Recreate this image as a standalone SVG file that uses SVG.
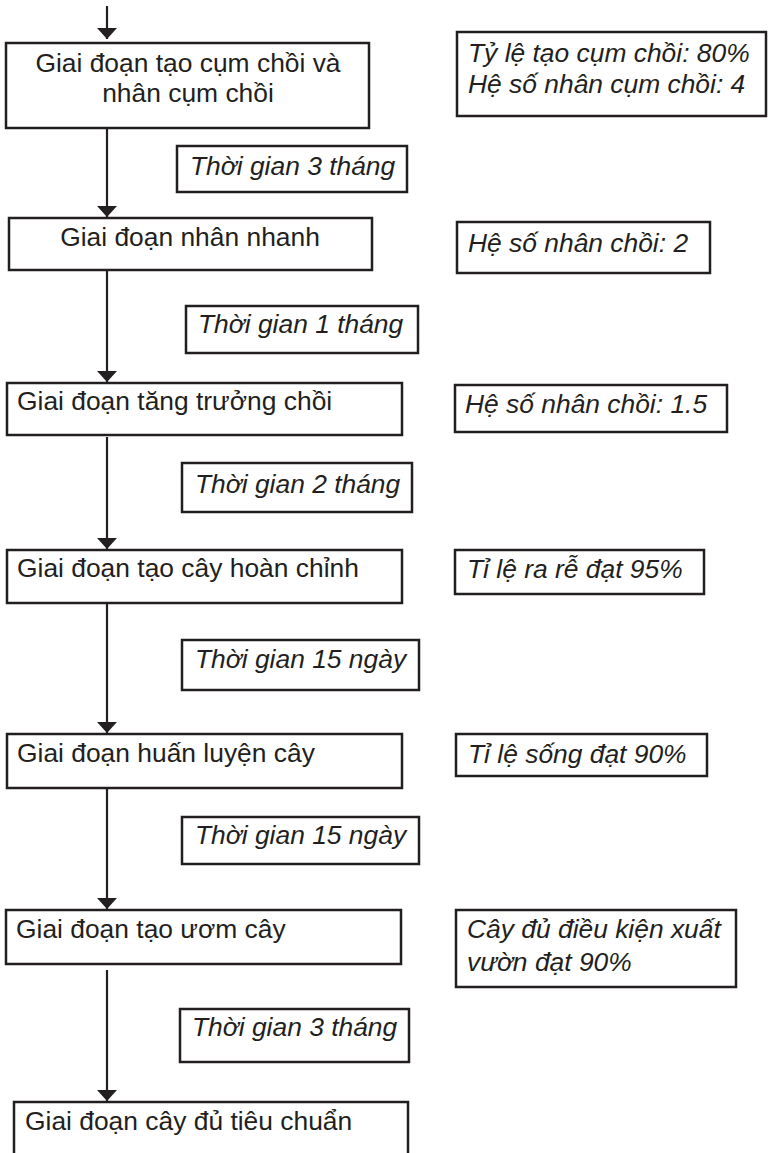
<svg xmlns="http://www.w3.org/2000/svg" width="768" height="1153" viewBox="0 0 768 1153">
<style>
  .box { fill: #ffffff; stroke: #231f20; stroke-width: 2.5; }
  .t { font-family: "Liberation Sans", Arial, sans-serif; font-size: 26.4px; fill: #231f20; }
  .i { font-style: italic; }
  .c { text-anchor: middle; }
  .conn { stroke: #231f20; stroke-width: 2.2; fill: none; marker-end: url(#arr); }
</style>
<defs>
  <marker id="arr" markerUnits="userSpaceOnUse" markerWidth="20" markerHeight="12" viewBox="0 0 20 12" refX="10" refY="11" orient="0">
    <path d="M0,0 L20,0 L10,11 Z" fill="#231f20"/>
  </marker>
</defs>
<rect width="768" height="1153" fill="#ffffff"/>

<g id="connectors">
  <line class="conn" x1="107" y1="6" x2="107" y2="39"/>
  <line class="conn" x1="107" y1="129" x2="107" y2="217"/>
  <line class="conn" x1="107" y1="271" x2="107" y2="382"/>
  <line class="conn" x1="107" y1="437" x2="107" y2="549"/>
  <line class="conn" x1="107" y1="604" x2="107" y2="733"/>
  <line class="conn" x1="107" y1="789" x2="107" y2="909"/>
  <line class="conn" x1="107" y1="970" x2="107" y2="1101"/>
</g>

<g id="stage1">
  <rect class="box" x="6" y="43" width="363" height="85"/>
  <text class="t c" x="188" y="72">Giai đoạn tạo cụm chồi và</text>
  <text class="t c" x="188" y="102">nhân cụm chồi</text>
</g>
<g id="stage2">
  <rect class="box" x="9" y="218" width="363" height="52"/>
  <text class="t c" x="190" y="246">Giai đoạn nhân nhanh</text>
</g>
<g id="stage3">
  <rect class="box" x="7" y="383" width="395" height="52"/>
  <text class="t" x="17" y="410">Giai đoạn tăng trưởng chồi</text>
</g>
<g id="stage4">
  <rect class="box" x="7" y="550" width="395" height="53"/>
  <text class="t" x="17" y="577">Giai đoạn tạo cây hoàn chỉnh</text>
</g>
<g id="stage5">
  <rect class="box" x="7" y="734" width="395" height="54"/>
  <text class="t" x="17" y="762">Giai đoạn huấn luyện cây</text>
</g>
<g id="stage6">
  <rect class="box" x="6" y="910" width="395" height="54"/>
  <text class="t" x="16" y="938">Giai đoạn tạo ươm cây</text>
</g>
<g id="stage7">
  <rect class="box" x="14" y="1102" width="394" height="60"/>
  <text class="t" x="25" y="1130">Giai đoạn cây đủ tiêu chuẩn</text>
</g>

<g id="time1">
  <rect class="box" x="177" y="146" width="230" height="46"/>
  <text class="t i" x="190" y="175">Thời gian 3 tháng</text>
</g>
<g id="time2">
  <rect class="box" x="186" y="306" width="232" height="47"/>
  <text class="t i" x="198" y="333">Thời gian 1 tháng</text>
</g>
<g id="time3">
  <rect class="box" x="182" y="463" width="230" height="49"/>
  <text class="t i" x="195" y="493">Thời gian 2 tháng</text>
</g>
<g id="time4">
  <rect class="box" x="182" y="640" width="237" height="50"/>
  <text class="t i" x="195" y="668">Thời gian 15 ngày</text>
</g>
<g id="time5">
  <rect class="box" x="182" y="817" width="237" height="47"/>
  <text class="t i" x="195" y="844">Thời gian 15 ngày</text>
</g>
<g id="time6">
  <rect class="box" x="180" y="1009" width="229" height="53"/>
  <text class="t i" x="192" y="1036">Thời gian 3 tháng</text>
</g>

<g id="note1">
  <rect class="box" x="457" y="32" width="309" height="84"/>
  <text class="t i" x="468" y="62">Tỷ lệ tạo cụm chồi: 80%</text>
  <text class="t i" x="468" y="93">Hệ số nhân cụm chồi: 4</text>
</g>
<g id="note2">
  <rect class="box" x="457" y="222" width="253" height="51"/>
  <text class="t i" x="468" y="252">Hệ số nhân chồi: 2</text>
</g>
<g id="note3">
  <rect class="box" x="455" y="385" width="272" height="47"/>
  <text class="t i" x="465" y="413">Hệ số nhân chồi: 1.5</text>
</g>
<g id="note4">
  <rect class="box" x="455" y="550" width="249" height="44"/>
  <text class="t i" x="467" y="578">Tỉ lệ ra rễ đạt 95%</text>
</g>
<g id="note5">
  <rect class="box" x="456" y="734" width="251" height="42"/>
  <text class="t i" x="468" y="763">Tỉ lệ sống đạt 90%</text>
</g>
<g id="note6">
  <rect class="box" x="456" y="910" width="280" height="77"/>
  <text class="t i" x="467" y="938">Cây đủ điều kiện xuất</text>
  <text class="t i" x="467" y="971">vườn đạt 90%</text>
</g>
</svg>
